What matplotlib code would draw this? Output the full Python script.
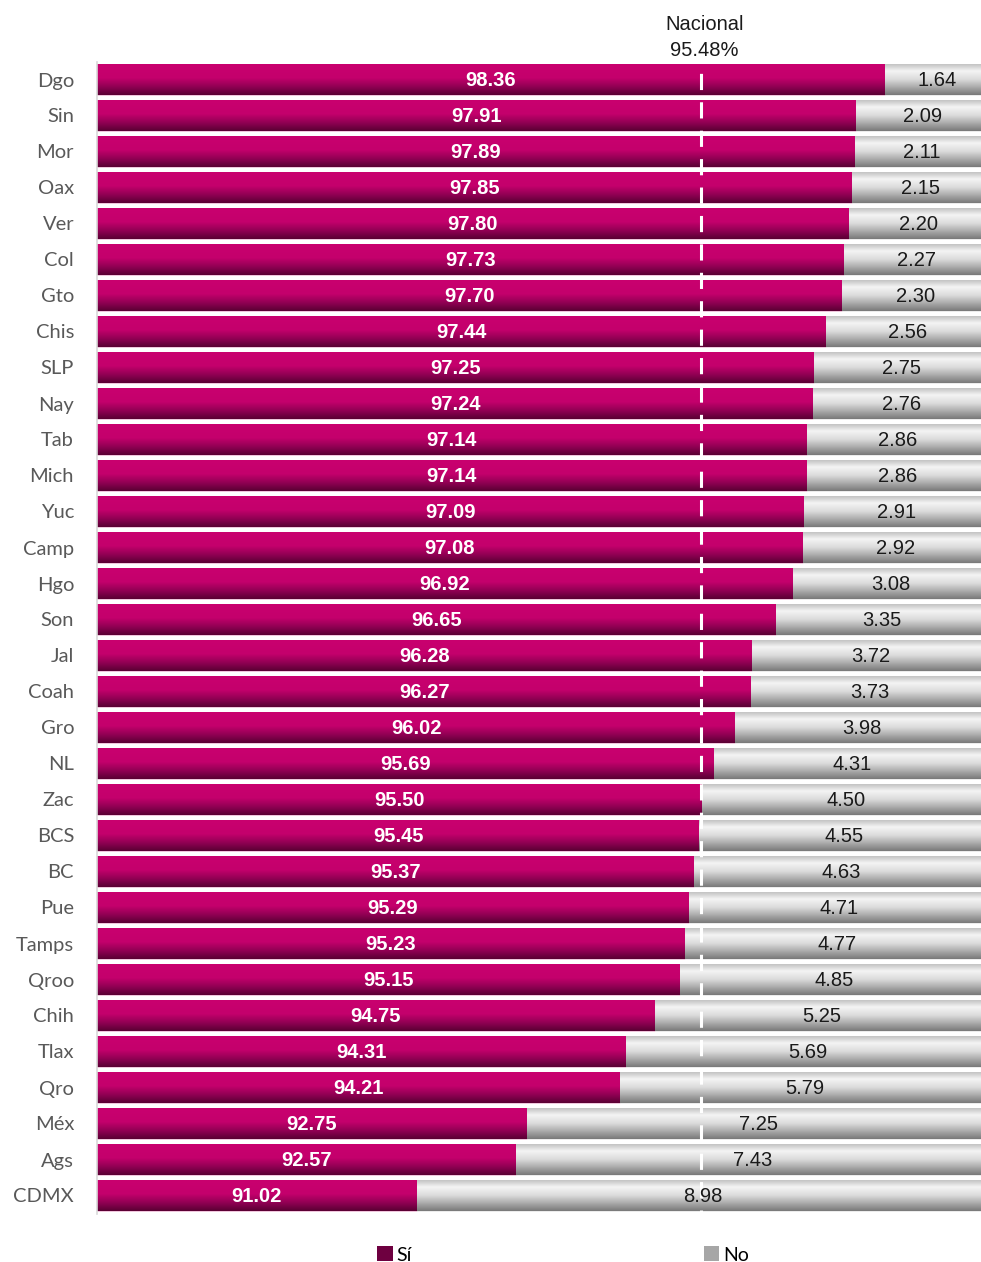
import matplotlib

matplotlib.use("Agg")
import matplotlib.pyplot as plt
import numpy as np
from matplotlib.colors import LinearSegmentedColormap
from matplotlib.patches import Patch

estados = ["Dgo", "Sin", "Mor", "Oax", "Ver", "Col", "Gto", "Chis", "SLP", "Nay",
           "Tab", "Mich", "Yuc", "Camp", "Hgo", "Son", "Jal", "Coah", "Gro", "NL",
           "Zac", "BCS", "BC", "Pue", "Tamps", "Qroo", "Chih", "Tlax", "Qro", "Méx",
           "Ags", "CDMX"]
si = [98.36, 97.91, 97.89, 97.85, 97.80, 97.73, 97.70, 97.44, 97.25, 97.24,
      97.14, 97.14, 97.09, 97.08, 96.92, 96.65, 96.28, 96.27, 96.02, 95.69,
      95.50, 95.45, 95.37, 95.29, 95.23, 95.15, 94.75, 94.31, 94.21, 92.75,
      92.57, 91.02]
no = [1.64, 2.09, 2.11, 2.15, 2.20, 2.27, 2.30, 2.56, 2.75, 2.76,
      2.86, 2.86, 2.91, 2.92, 3.08, 3.35, 3.72, 3.73, 3.98, 4.31,
      4.50, 4.55, 4.63, 4.71, 4.77, 4.85, 5.25, 5.69, 5.79, 7.25,
      7.43, 8.98]
nacional = 95.48
X0, X1 = 86, 100

cmap_si = LinearSegmentedColormap.from_list(
    "si", [(0, "#c9006f"), (0.45, "#c4006c"), (0.75, "#8e0052"), (1, "#5a0033")])
cmap_no = LinearSegmentedColormap.from_list(
    "no", [(0, "#c4c4c4"), (0.22, "#f4f4f4"), (0.5, "#dadada"), (1, "#7a7a7a")])
grad = np.linspace(0, 1, 64).reshape(-1, 1)


def shade(ax, bars, cmap):
    # vertical gradient fill, clipped to each bar rectangle
    for p in bars:
        x0, y0 = p.get_x(), p.get_y()
        w, h = p.get_width(), p.get_height()
        im = ax.imshow(grad, cmap=cmap, aspect="auto", origin="upper",
                       extent=(x0, x0 + w, y0 + h, y0), zorder=2,
                       interpolation="bilinear")
        im.set_clip_path(p)


fig = plt.figure(figsize=(9.81, 12.62), dpi=100)
ax = fig.add_axes([97 / 981, 1 - 1213.5 / 1262, (989 - 97) / 981, 1152 / 1262])

y = np.arange(len(estados))
si_arr = np.array(si)
no_arr = np.array(no)
b1 = ax.barh(y, si_arr - X0, left=X0, height=0.86, color="#c4006c",
             edgecolor="#f3d6e6", linewidth=0.6, zorder=1)
b2 = ax.barh(y, no_arr, left=si_arr, height=0.86, color="#cccccc",
             edgecolor="#eeeeee", linewidth=0.6, zorder=1)
shade(ax, b1, cmap_si)
shade(ax, b2, cmap_no)

ax.axvline(nacional, color="white", lw=2.2, linestyle=(4, (5.3, 4)), zorder=3)

for yi, s, n in zip(y, si_arr, no_arr):
    ax.text((X0 + s) / 2, yi + 0.04, f"{s:.2f}", ha="center", va="center",
            color="white", fontsize=14.5, fontweight="bold",
            family="Liberation Sans", zorder=4)
    ax.text(s + n / 2, yi + 0.04, f"{n:.2f}", ha="center", va="center",
            color="#1a1a1a", fontsize=14.5, family="Liberation Sans", zorder=4)

ax.text(nacional + 0.05, -0.54, "Nacional\n95.48%", ha="center", va="bottom",
        fontsize=14.5, family="Liberation Sans", color="#1a1a1a",
        linespacing=1.45)

ax.set_xlim(X0, X1)
ax.set_ylim(len(estados) - 0.5, -0.5)
ax.set_yticks(y)
ax.set_yticklabels(estados, family="Lato", fontsize=14.5, color="#595959")
ax.tick_params(axis="y", length=0, pad=16.5)
ax.set_xticks([])
for side in ["top", "right", "bottom"]:
    ax.spines[side].set_visible(False)
ax.spines["left"].set_color("#d9d9d9")
ax.spines["left"].set_linewidth(1.2)

handles = [Patch(facecolor="#6e0040", edgecolor="none", label="Sí"),
           Patch(facecolor="#a6a6a6", edgecolor="none", label="No")]
fig.legend(handles=handles, loc="center", bbox_to_anchor=(563 / 981, 1 - 1255 / 1262),
           ncol=2, frameon=False, columnspacing=15.0, handlelength=0.8,
           handleheight=0.8, handletextpad=0.2,
           prop={"family": "Lato", "size": 14})

fig.savefig("out.png", dpi=100)
